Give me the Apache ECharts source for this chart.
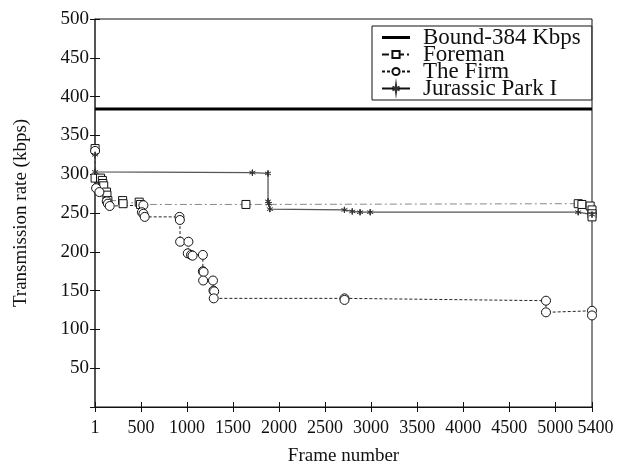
<!DOCTYPE html>
<html>
<head>
<meta charset="utf-8">
<script src="https://cdn.jsdelivr.net/npm/echarts@6/dist/echarts.min.js"></script>
<style>
  html, body { margin: 0; padding: 0; background: #fff; }
  #main { width: 624px; height: 471px; }
</style>
</head>
<body>
<div id="main"></div>
<script>
const seriesNames = ["Bound-384 Kbps", "Foreman", "The Firm", "Jurassic Park I"];

const xTicks = [0, 500, 1000, 1500, 2000, 2500, 3000, 3500, 4000, 4500, 5000, 5400];

const bound = [[1, 384], [5400, 384]];

const foreman = [
  [1, 333], [1, 295], [60, 295], [80, 292], [85, 288], [95, 285],
  [125, 277], [130, 273], [140, 266], [300, 266], [305, 262],
  [480, 264], [495, 261], [1640, 261], [5250, 262], [5290, 261],
  [5380, 259], [5400, 254], [5400, 249], [5400, 245]
];

const theFirm = [
  [1, 330], [12, 282], [48, 277], [128, 265], [140, 262], [160, 259],
  [526, 260], [510, 251], [526, 249], [540, 245], [918, 245], [922, 241],
  [925, 213], [1015, 213], [1008, 198], [1044, 196], [1060, 195],
  [1172, 196], [1172, 175], [1180, 174], [1175, 163], [1282, 163],
  [1287, 150], [1295, 149], [1290, 140], [2711, 140], [2711, 138],
  [4900, 137], [4900, 122], [5400, 124], [5400, 118]
];

const jurassic = [
  [1, 325], [1, 303], [1710, 302], [1880, 301], [1880, 265], [1890, 262],
  [1900, 255], [2710, 254], [2795, 252], [2880, 251], [2990, 251],
  [5250, 251], [5400, 248]
];

const font = "Liberation Serif";
const star = "path://M0,-5L0,5M-4.3,-2.5L4.3,2.5M-4.3,2.5L4.3,-2.5M0,-5L0.6,0L0,5L-0.6,0Z";
// thick bar centred in the legend icon box
const boundIcon = "path://M0,0M28,9M0,3H28V6H0Z";

const chart = echarts.init(document.getElementById("main"));

chart.setOption({
  animation: false,
  textStyle: { fontFamily: font },
  grid: { left: 95, right: 32, top: 19, bottom: 61, show: true, borderColor: "#111", borderWidth: 1 },
  legend: {
    data: [
      { name: seriesNames[0], icon: boundIcon },
      seriesNames[1], seriesNames[2], seriesNames[3]
    ],
    orient: "vertical",
    left: 372,
    top: 26,
    itemWidth: 28,
    itemHeight: 9,
    itemGap: -6,
    padding: [0, 11, 0, 9],
    borderColor: "#111",
    borderWidth: 1,
    backgroundColor: "#fff",
    lineStyle: { color: "#111" },
    textStyle: { fontFamily: font, fontSize: 23, color: "#111", padding: [0, 0, 0, 8] }
  },
  xAxis: [
    {
      type: "value",
      min: 0,
      max: 5400,
      name: "Frame number",
      nameLocation: "middle",
      nameGap: 40,
      nameTextStyle: { fontFamily: font, fontSize: 19, color: "#111" },
      axisLine: { lineStyle: { color: "#111" } },
      axisTick: { inside: true, length: 5, customValues: xTicks, lineStyle: { color: "#111" } },
      axisLabel: {
        fontFamily: font, fontSize: 18, color: "#111", margin: 12,
        customValues: xTicks,
        formatter: v => (v === 0 ? "1" : v === 5400 ? "{r|5400}" : String(v)),
        rich: { r: { fontFamily: font, fontSize: 18, color: "#111", padding: [0, 0, 0, 7] } }
      },
      splitLine: { show: false }
    },
    {
      type: "value",
      position: "top",
      min: 0,
      max: 5400,
      axisLine: { show: false },
      axisTick: { inside: true, length: 5, customValues: xTicks, lineStyle: { color: "#111" } },
      axisLabel: { show: false },
      splitLine: { show: false }
    }
  ],
  yAxis: [
    {
      type: "value",
      min: 0,
      max: 500,
      interval: 50,
      name: "Transmission rate (kbps)",
      nameLocation: "middle",
      nameGap: 64,
      nameTextStyle: { fontFamily: font, fontSize: 19, color: "#111" },
      axisLine: { show: true, lineStyle: { color: "#444", width: 1.5 } },
      axisTick: { inside: true, length: 5, lineStyle: { color: "#111" } },
      axisLabel: {
        fontFamily: font, fontSize: 19, color: "#111", margin: 6,
        formatter: v => (v === 0 ? "" : String(v))
      },
      splitLine: { show: false }
    },
    {
      type: "value",
      position: "right",
      min: 0,
      max: 500,
      interval: 50,
      axisLine: { show: false },
      axisTick: { show: true, inside: true, length: 5, lineStyle: { color: "#111" } },
      axisLabel: { show: false },
      splitLine: { show: false }
    }
  ],
  series: [
    {
      name: seriesNames[0],
      type: "line",
      data: bound,
      symbol: "none",
      lineStyle: { color: "#000", width: 3 },
      itemStyle: { color: "#000" }
    },
    {
      name: seriesNames[1],
      type: "line",
      data: foreman,
      symbol: "rect",
      symbolSize: 8,
      lineStyle: { color: "#888", width: 1, type: [7, 3, 2, 3] },
      itemStyle: { color: "#fff", borderColor: "#111", borderWidth: 1 }
    },
    {
      name: seriesNames[2],
      type: "line",
      data: theFirm,
      symbol: "circle",
      symbolSize: 9,
      lineStyle: { color: "#222", width: 1, type: [3, 2] },
      itemStyle: { color: "#fff", borderColor: "#111", borderWidth: 1 }
    },
    {
      name: seriesNames[3],
      type: "line",
      data: jurassic,
      symbol: star,
      symbolSize: 6,
      lineStyle: { color: "#555", width: 1.3 },
      itemStyle: { color: "#333", borderColor: "#333", borderWidth: 1 }
    }
  ]
});
</script>
</body>
</html>
